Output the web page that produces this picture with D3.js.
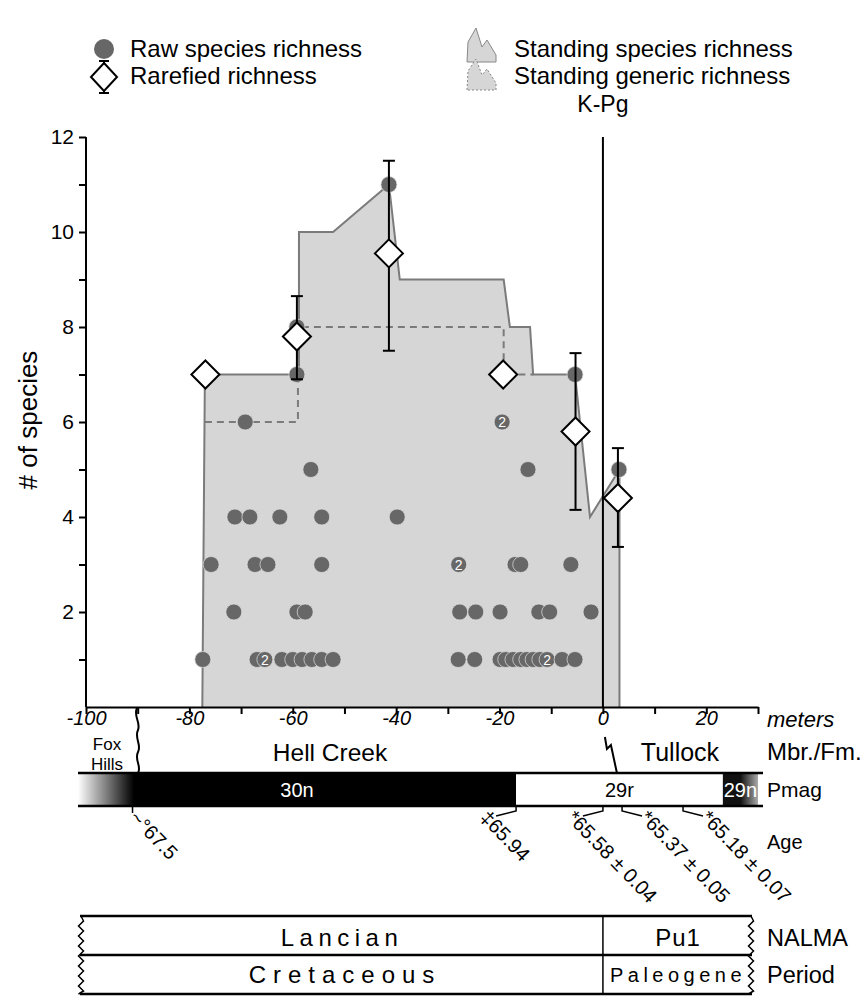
<!DOCTYPE html>
<html>
<head>
<meta charset="utf-8">
<script src="https://cdn.jsdelivr.net/npm/d3@7"></script>
<style>
  body { margin: 0; background: #fff; }
  svg { font-family: "Liberation Sans", Arial, sans-serif; }
</style>
</head>
<body>
<div id="chart"></div>
<script>
// Raw species richness: [meters, richness, count]
const rawPoints = [
  [-77.4, 1], [-75.8, 3], [-71.4, 2], [-71.2, 4], [-69.2, 6], [-68.3, 4], [-67.3, 3], [-66.9, 1],
  [-65.4, 1, 2], [-64.8, 3], [-62.5, 4], [-62.1, 1], [-60.0, 1], [-59.2, 2], [-59.2, 7], [-59.2, 8],
  [-58.2, 1], [-57.6, 2], [-56.5, 5], [-56.3, 1], [-54.4, 1], [-54.4, 3], [-54.4, 4], [-52.2, 1],
  [-41.4, 11], [-39.8, 4],
  [-28.0, 1], [-27.9, 3, 2], [-27.7, 2], [-24.8, 1], [-24.6, 2], [-19.9, 1], [-19.9, 2], [-19.5, 6, 2],
  [-18.8, 1], [-17.4, 1], [-17.0, 3], [-15.9, 1], [-15.9, 3], [-14.7, 1], [-14.5, 5], [-13.5, 1],
  [-12.4, 2], [-12.2, 1], [-10.8, 1, 2], [-10.3, 2], [-7.9, 1], [-6.2, 3], [-5.4, 1], [-5.4, 7],
  [-2.3, 2], [3.1, 5]
];

// Rarefied richness: [meters, mean, low, high]
const rarefied = [
  [-76.9, 7.0, 7.0, 7.0],
  [-59.2, 7.8, 6.9, 8.65],
  [-41.4, 9.55, 7.5, 11.5],
  [-19.3, 7.0, 7.0, 7.0],
  [-5.3, 5.8, 4.15, 7.45],
  [2.9, 4.4, 3.37, 5.45]
];

// Standing species richness outline
const standingSpecies = [
  [-77.5, 0], [-77, 7], [-58.8, 7], [-58.8, 10], [-52.2, 10], [-41.4, 11], [-39.3, 9],
  [-19.2, 9], [-18, 8], [-14.1, 8], [-13.5, 7], [-5.4, 7], [-2.5, 4], [3.2, 5], [3.2, 0]
];

// Standing generic richness (dashed)
const standingGeneric = [
  [-77, 6], [-59, 6], [-59, 8], [-19.2, 8], [-19.2, 7], [-13.5, 7]
];

const yTicks = d3.range(1, 13);
const xTicks = d3.range(-100, 31, 10);

// Magnetic polarity chrons, meters
const pmag = [
  { name: '30n', from: -100, to: -16.8, fill: 'black', text: 'white' },
  { name: '29r', from: -16.8, to: 23.2, fill: 'white', text: 'black' },
  { name: '29n', from: 23.2, to: 30, fill: 'black', text: 'white' }
];

// Age labels: position on section (m), label, leader offset
const ages = [
  { at: -91, label: '~°67.5', dx: 0 },
  { at: -16.8, label: '‡65.94', dx: -20 },
  { at: 0, label: '*65.58 ± 0.04', dx: -20 },
  { at: 3.7, label: '*65.37 ± 0.05', dx: 20 },
  { at: 15.5, label: '*65.18 ± 0.07', dx: 20 }
];

const W = 863, H = 996;
const svg = d3.select('#chart').append('svg').attr('width', W).attr('height', H);

const x = d3.scaleLinear().domain([-100, 30]).range([86, 758]);
const y = d3.scaleLinear().domain([0, 12]).range([707, 137]);

const defs = svg.append('defs');
const gl = defs.append('linearGradient').attr('id', 'gl').attr('x1', 0).attr('x2', 1);
gl.append('stop').attr('offset', 0).attr('stop-color', '#fff');
gl.append('stop').attr('offset', 1).attr('stop-color', '#000');
const gr = defs.append('linearGradient').attr('id', 'gr').attr('x1', 0).attr('x2', 1);
gr.append('stop').attr('offset', 0.5).attr('stop-color', '#111');
gr.append('stop').attr('offset', 1).attr('stop-color', '#aaa');

// Standing species polygon
const line = d3.line().x(d => x(d[0])).y(d => y(d[1]));
svg.append('path')
  .attr('d', line(standingSpecies) + 'Z')
  .attr('fill', '#d6d6d6')
  .attr('stroke', 'none');
svg.append('path')
  .attr('d', line(standingSpecies))
  .attr('fill', 'none')
  .attr('stroke', '#7b7b7b')
  .attr('stroke-width', 2);
svg.append('path')
  .attr('d', line(standingGeneric))
  .attr('fill', 'none')
  .attr('stroke', '#7b7b7b')
  .attr('stroke-width', 2)
  .attr('stroke-dasharray', '7,5');

// Raw points
const pts = svg.append('g');
const sorted = rawPoints.slice().sort((a, b) => a[0] - b[0]);
pts.selectAll('circle').data(sorted).join('circle')
  .attr('cx', d => x(d[0])).attr('cy', d => y(d[1])).attr('r', 8)
  .attr('fill', '#676767').attr('stroke', '#e2e2e2').attr('stroke-width', 0.7);
pts.selectAll('text').data(sorted.filter(d => d[2])).join('text')
  .attr('x', d => x(d[0])).attr('y', d => y(d[1]) + 5)
  .attr('text-anchor', 'middle').attr('fill', '#fff').attr('font-size', 14)
  .text(d => d[2]);

// K-Pg line
svg.append('line').attr('x1', x(0)).attr('x2', x(0)).attr('y1', 137).attr('y2', 707)
  .attr('stroke', '#000').attr('stroke-width', 2);
svg.append('text').attr('x', x(0)).attr('y', 112).attr('text-anchor', 'middle')
  .attr('font-size', 23).text('K-Pg');

// Rarefied with error bars
const rf = svg.append('g').attr('stroke', '#000').attr('stroke-width', 2);
rarefied.forEach(d => {
  const cx = x(d[0]);
  if (d[3] > d[2]) {
    rf.append('line').attr('x1', cx).attr('x2', cx).attr('y1', y(d[2])).attr('y2', y(d[3]));
    [d[2], d[3]].forEach(v => rf.append('line').attr('x1', cx - 6).attr('x2', cx + 6)
      .attr('y1', y(v)).attr('y2', y(v)));
  }
  const cy = y(d[1]), s = 14;
  rf.append('path').attr('d', `M${cx},${cy - s}L${cx + s},${cy}L${cx},${cy + s}L${cx - s},${cy}Z`)
    .attr('fill', '#fff');
});

// Axes
const yAxis = svg.append('g').attr('transform', 'translate(86,0)')
  .call(d3.axisLeft(y).tickValues(yTicks).tickFormat(d => d % 2 === 0 ? d : '').tickSize(7).tickSizeOuter(0));
yAxis.select('.domain').attr('stroke-width', 2).attr('d', 'M0,137V707');
yAxis.selectAll('.tick line').attr('stroke-width', 2);
yAxis.selectAll('text').attr('font-size', 21).attr('font-family', 'Liberation Sans, Arial, sans-serif').attr('dx', -2);

const xAxis = svg.append('g').attr('transform', 'translate(0,707)')
  .call(d3.axisBottom(x).tickValues(xTicks).tickFormat(d => d % 20 === 0 ? d : '').tickSize(7).tickSizeOuter(0));
xAxis.select('.domain').attr('stroke-width', 2);
xAxis.selectAll('.tick line').attr('stroke-width', 2);
xAxis.selectAll('text').attr('font-size', 20).attr('font-style', 'italic')
  .attr('font-family', 'Liberation Sans, Arial, sans-serif').attr('dy', '0.4em');

svg.append('text').attr('transform', 'translate(37,420) rotate(-90)').attr('text-anchor', 'middle')
  .attr('font-size', 26).text('# of species');

// Right-side row labels
const rowLabels = [
  ['meters', 727, 22, true], ['Mbr./Fm.', 760, 24], ['Pmag', 797, 21],
  ['Age', 849, 20], ['NALMA', 946, 23.5], ['Period', 983, 23.5]
];
rowLabels.forEach(r => svg.append('text').attr('x', 767).attr('y', r[1]).attr('font-size', r[2])
  .attr('font-style', r[3] ? 'italic' : 'normal').text(r[0]));

// Formation row
svg.append('text').attr('x', 107).attr('y', 750).attr('text-anchor', 'middle').attr('font-size', 17).text('Fox');
svg.append('text').attr('x', 107).attr('y', 770).attr('text-anchor', 'middle').attr('font-size', 17).text('Hills');
svg.append('text').attr('x', 330).attr('y', 761).attr('text-anchor', 'middle').attr('font-size', 24.5).text('Hell Creek');
svg.append('text').attr('x', 680).attr('y', 761).attr('text-anchor', 'middle').attr('font-size', 25).text('Tullock');
svg.append('path')
  .attr('d', 'M137,708 C133,716 141,722 138,730 C134,738 142,745 138,752 C134,760 142,766 138,773')
  .attr('fill', 'none').attr('stroke', '#000').attr('stroke-width', 2);
svg.append('path')
  .attr('d', `M${x(0) + 2},737 L${x(0) + 4},749 L${x(0) + 8},745 L${x(0) + 14},773`)
  .attr('fill', 'none').attr('stroke', '#000').attr('stroke-width', 2);

// Pmag bar
const pm = svg.append('g');
pm.selectAll('rect').data(pmag).join('rect')
  .attr('x', d => x(d.from)).attr('width', d => x(d.to) - x(d.from))
  .attr('y', 773).attr('height', 33)
  .attr('fill', d => d.name === '29n' ? 'url(#gr)' : d.fill);
pm.append('rect').attr('x', 78).attr('width', 56).attr('y', 773).attr('height', 33).attr('fill', 'url(#gl)');
pm.selectAll('text').data(pmag).join('text')
  .attr('x', d => d.name === '30n' ? 297 : (x(d.from) + x(d.to)) / 2)
  .attr('y', 797).attr('text-anchor', 'middle').attr('font-size', 20)
  .attr('fill', d => d.text).text(d => d.name);
pm.append('line').attr('x1', 78).attr('x2', 763).attr('y1', 773).attr('y2', 773).attr('stroke', '#000').attr('stroke-width', 2.5);
pm.append('line').attr('x1', 78).attr('x2', 763).attr('y1', 806).attr('y2', 806).attr('stroke', '#000').attr('stroke-width', 2.5);

// Age labels
ages.forEach(a => {
  const ax = x(a.at);
  const g = svg.append('g');
  g.append('path').attr('d', a.dx === 0 ? `M${ax},806V813` : `M${ax},806V811L${ax + a.dx},816`)
    .attr('fill', 'none').attr('stroke', '#000').attr('stroke-width', 1.5);
  const tx = a.dx === 0 ? ax + 1 : ax + a.dx + (a.dx < 0 ? -12 : 2);
  g.append('text').attr('transform', `translate(${tx},814) rotate(46)`)
    .attr('font-size', 20).attr('dy', '0.35em').text(a.label);
});

// Table: NALMA and Period
const tb = svg.append('g');
function wavy(xc, y0, y1) {
  let p = `M${xc},${y0}`;
  for (let yy = y0, i = 0; yy < y1; yy += 5, i++) p += `L${xc + (i % 2 ? -2.5 : 2.5)},${Math.min(yy + 5, y1)}`;
  return p;
}
tb.append('path').attr('d', wavy(81, 916, 994)).attr('fill', 'none').attr('stroke', '#000').attr('stroke-width', 1.5);
tb.append('path').attr('d', wavy(751, 916, 994)).attr('fill', 'none').attr('stroke', '#000').attr('stroke-width', 1.5);
[916, 955, 994].forEach(yy => tb.append('line').attr('x1', 80).attr('x2', 752).attr('y1', yy).attr('y2', yy)
  .attr('stroke', '#000').attr('stroke-width', 2.5));
tb.append('line').attr('x1', x(0)).attr('x2', x(0)).attr('y1', 916).attr('y2', 994).attr('stroke', '#000').attr('stroke-width', 1.5);
tb.append('text').attr('x', 342).attr('y', 946).attr('text-anchor', 'middle').attr('font-size', 24).attr('letter-spacing', 5.5).text('Lancian');
tb.append('text').attr('x', 345).attr('y', 983).attr('text-anchor', 'middle').attr('font-size', 24).attr('letter-spacing', 7).text('Cretaceous');
tb.append('text').attr('x', 678).attr('y', 946).attr('text-anchor', 'middle').attr('font-size', 24).attr('letter-spacing', 1).text('Pu1');
tb.append('text').attr('x', 678).attr('y', 982).attr('text-anchor', 'middle').attr('font-size', 20).attr('letter-spacing', 4.5).text('Paleogene');

// Legend
const lg = svg.append('g');
lg.append('circle').attr('cx', 104).attr('cy', 49).attr('r', 10).attr('fill', '#676767');
lg.append('text').attr('x', 130).attr('y', 57).attr('font-size', 24).text('Raw species richness');
lg.append('line').attr('x1', 104).attr('x2', 104).attr('y1', 61).attr('y2', 93).attr('stroke', '#000').attr('stroke-width', 2);
[61, 93].forEach(yy => lg.append('line').attr('x1', 99).attr('x2', 109).attr('y1', yy).attr('y2', yy).attr('stroke', '#000').attr('stroke-width', 2));
lg.append('path').attr('d', 'M104,63L117,77L104,91L91,77Z').attr('fill', '#fff').attr('stroke', '#000').attr('stroke-width', 2);
lg.append('text').attr('x', 130).attr('y', 84).attr('font-size', 24).text('Rarefied richness');
lg.append('path').attr('d', 'M467,62L468,42L476,28L482,47L487,40L496,55L496,62Z')
  .attr('fill', '#d6d6d6').attr('stroke', '#888').attr('stroke-width', 1);
lg.append('text').attr('x', 514).attr('y', 57).attr('font-size', 24).text('Standing species richness');
lg.append('path').attr('d', 'M467,90L468,71L476,59L482,75L487,69L496,83L496,90Z')
  .attr('fill', '#d6d6d6').attr('stroke', '#888').attr('stroke-width', 1).attr('stroke-dasharray', '2,2');
lg.append('text').attr('x', 514).attr('y', 84).attr('font-size', 24).text('Standing generic richness');
</script>
</body>
</html>
